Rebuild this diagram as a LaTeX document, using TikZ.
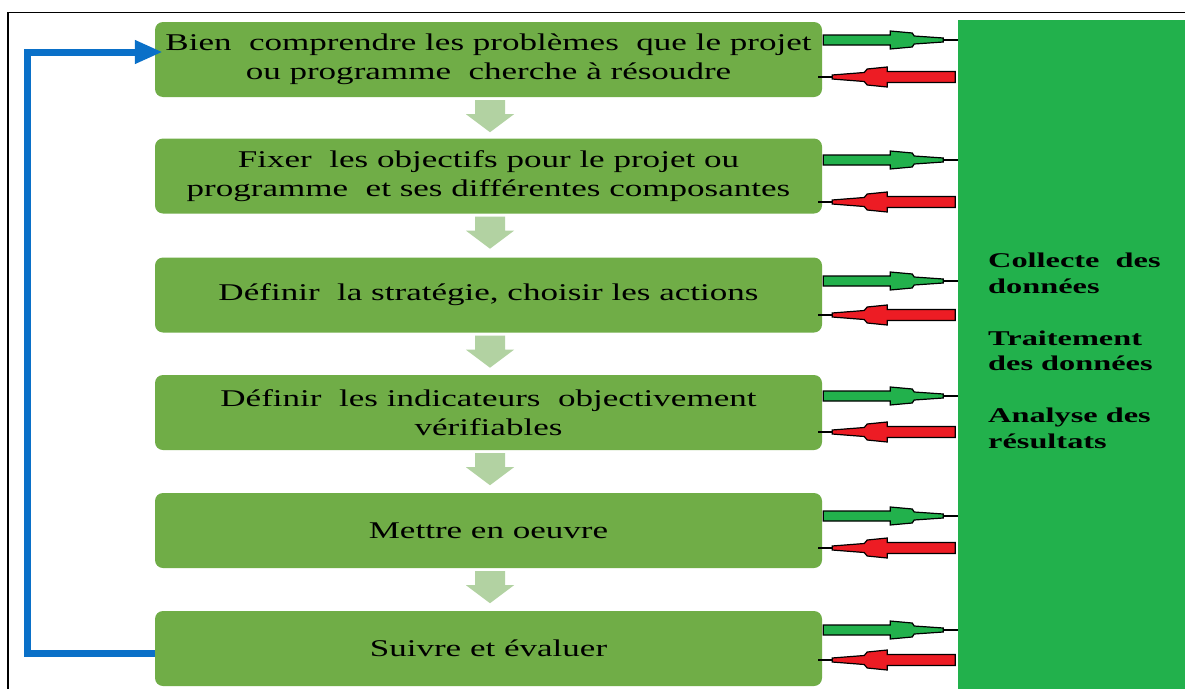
\documentclass[tikz,border=0pt]{standalone}
\usepackage{fontspec}
\setmainfont{Liberation Serif}[FakeStretch=1.46]
\newfontfamily\sidefont{Liberation Serif}[FakeStretch=1.54]
\usetikzlibrary{calc,arrows.meta}
\definecolor{cffffff}{RGB}{255,255,255}
\definecolor{c70ad47}{RGB}{112,173,71}
\definecolor{c22b14c}{RGB}{34,177,76}
\definecolor{ced1c24}{RGB}{237,28,36}
\definecolor{cb2d2a2}{RGB}{178,210,162}
\definecolor{c0070c0}{RGB}{10,112,200}

\tikzset{
  etape/.style={rectangle, rounded corners=8pt, fill=c70ad47, minimum width=667pt,
    minimum height=75pt, inner sep=0pt, align=center,
    font=\fontsize{24}{29}\selectfont},
  sidearrow/.style={draw=black, line width=1.2pt, line join=miter},
  boucle/.style={draw=c0070c0, line width=7pt, line join=miter,
    -{Triangle[length=28pt,width=22pt]}, shorten >=-8pt}
}

% green arrow: box -> data
\newcommand{\outarrow}[2]{%
  \begin{scope}[shift={($(#1.east)+(0,#2)$)}]
    \path[sidearrow,fill=c22b14c] (1,-5) -- (68,-5) -- (68,-9) -- (90,-7) -- (92,-4)
      -- (121,-2) -- (121,2) -- (92,4) -- (90,7) -- (68,9) -- (68,5) -- (1,5) -- cycle;
    \path[sidearrow] (121,0) -- (136,0);
  \end{scope}}
% red arrow: data -> box
\newcommand{\inarrow}[2]{%
  \begin{scope}[shift={($(#1.east)+(0,#2)$)}]
    \path[sidearrow,fill=ced1c24] (133,-5.5) -- (65,-5.5) -- (65,-10) -- (45,-8) -- (42,-4.5)
      -- (10,-2) -- (10,2) -- (42,4.5) -- (45,8) -- (65,10) -- (65,5.5) -- (133,5.5) -- cycle;
    \path[sidearrow] (10,0) -- (-4,0);
  \end{scope}}
% pale arrow between two steps
\newcommand{\nextarrow}[1]{%
  \begin{scope}[shift={($(#1.south)+(1.5,0)$)}]
    \fill[cb2d2a2] (-15,3) -- (15,3) -- (15,17) -- (24,17) -- (0,35) -- (-24,17) -- (-15,17) -- cycle;
  \end{scope}}

\begin{document}
\begin{tikzpicture}[x=1pt, y=-1pt]
  \useasboundingbox (0,0) rectangle (1185,688);
  \clip (0,0) rectangle (1185,688);
  \fill[cffffff] (0,0) rectangle (1185,688);
  \draw[line width=1.5pt] (8,700) -- (8,12.5) -- (1200,12.5);

  \node[fill=c22b14c, minimum width=260pt, minimum height=700pt, inner sep=0pt,
    anchor=north west] (data) at (958,20) {};
  \node[anchor=north west, inner sep=0pt, align=left,
    font=\sidefont\bfseries\fontsize{21}{25.8}\selectfont] (datatext) at (988,253)
    {Collecte\ \ des\\données\\[25.8pt]Traitement\\des données\\[25.8pt]Analyse des\\résultats};

  \node[etape] (box1) at (488.5,59.5) {Bien\ \ comprendre les problèmes\ \ que le projet\\ou programme\ \ cherche à résoudre};
  \node[etape] (box2) at (488.5,176) {Fixer\ \ les objectifs pour le projet ou\\programme\ \ et ses différentes composantes};
  \node[etape] (box3) at (488.5,295) {Définir\ \ la stratégie, choisir les actions};
  \node[etape] (box4) at (488.5,412.5) {Définir\ \ les indicateurs\ \ objectivement\\vérifiables};
  \node[etape] (box5) at (488.5,530.5) {Mettre en oeuvre};
  \node[etape] (box6) at (488.5,648.5) {Suivre et évaluer};

  \foreach \b in {box1,box2,box3,box4,box5}
    \nextarrow{\b};

  \foreach \b/\g/\r in {box1/-19.5/17.5, box2/-16/26, box3/-14/20,
                        box4/-16.5/19.5, box5/-14.5/17.5, box6/-18.5/11.5}
  {
    \outarrow{\b}{\g}
    \inarrow{\b}{\r}
  }

  \draw[boucle] ([yshift=-4.5pt]box6.west) -- ++(-127,0) |- ([yshift=7.5pt]box1.west);
\end{tikzpicture}
\end{document}
